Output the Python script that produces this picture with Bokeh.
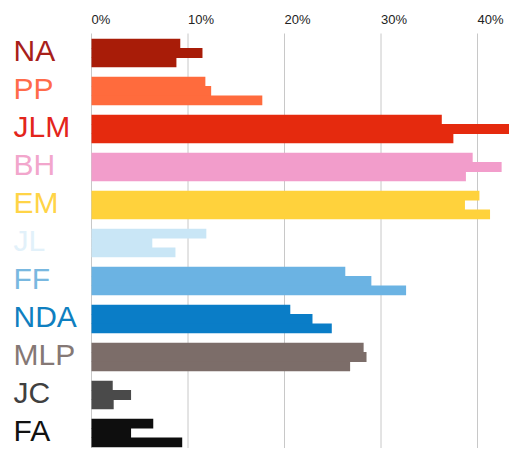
from bokeh.plotting import figure
from bokeh.models import Range1d, ColumnDataSource
from bokeh.core.properties import value
from bokeh.embed import file_html
from bokeh.resources import INLINE

# ---- data ----
candidates = ["NA", "PP", "JLM", "BH", "EM", "JL", "FF", "NDA", "MLP", "JC", "FA"]
poll_a = [9.2, 11.8, 36.3, 39.5, 40.2, 11.9, 26.3, 20.6, 28.2, 2.2, 6.4]
poll_b = [11.5, 12.4, 44.6, 42.5, 38.7, 6.3, 29.0, 22.9, 28.5, 4.1, 4.1]
poll_c = [8.8, 17.7, 37.5, 38.8, 41.3, 8.7, 32.6, 24.9, 26.8, 2.3, 9.4]
bar_colors = ["#A81C08", "#FF6B3D", "#E52A0E", "#F29DCB", "#FFD23C", "#C9E6F6",
              "#6BB3E3", "#0A7DC7", "#7C6D69", "#4A4A4A", "#0E0E0E"]
label_colors = ["#A8201A", "#FF6B4A", "#E3251B", "#F2A6CC", "#FFD447", "#E2F1FA",
                "#79B8E0", "#0F7FC0", "#857875", "#404040", "#111111"]
ticks = [0, 10, 20, 30, 40]
tick_labels = ["0%", "10%", "20%", "30%", "40%"]

# ---- figure ----
W, H = 509, 448
PX_X = 9.65          # pixels per percent
X0 = 91              # pixel of 0 %
PX_Y = 38.0          # pixels per row
Y0 = 52.5            # pixel of first row centre
BAR_PX = 28.2        # full row bar thickness in pixels
x_start = -X0 / PX_X
x_end = (W - X0) / PX_X
y_end = Y0 / PX_Y
y_start = y_end - H / PX_Y

p = figure(width=W, height=H, output_backend="svg", toolbar_location=None,
           x_range=Range1d(x_start, x_end), y_range=Range1d(y_start, y_end),
           min_border=0)
p.axis.visible = False
p.grid.visible = False
p.outline_line_color = None
p.background_fill_color = "white"

n = len(candidates)
rows = [-i for i in range(n)]

# grid lines
g_top = y_end - 33 / PX_Y
p.segment(x0=ticks, x1=ticks, y0=[g_top] * len(ticks), y1=[y_start - 1] * len(ticks),
          line_color="#c8c8c8", line_width=1, level="underlay")

# bars: three sub-bars per candidate
sub_h = BAR_PX / PX_Y / 3
for vals, off in ((poll_a, sub_h), (poll_b, 0.0), (poll_c, -sub_h)):
    src = ColumnDataSource(dict(y=[r + off for r in rows], right=vals, color=bar_colors))
    p.hbar(y="y", left=0, right="right", height=sub_h + 0.01, color="color",
           line_color=None, source=src)

# category labels
lab_src = ColumnDataSource(dict(x=[(13 - X0) / PX_X] * n,
                                y=[r + 3 / PX_Y for r in rows],
                                text=candidates, color=label_colors))
p.text(x="x", y="y", text="text", text_color="color", source=lab_src,
       text_font=value("Liberation Sans"), text_font_size="30px",
       text_baseline="middle", text_align="left")

# tick labels at top
tick_src = ColumnDataSource(dict(x=ticks, y=[y_end - 19 / PX_Y] * len(ticks), text=tick_labels))
p.text(x="x", y="y", text="text", source=tick_src, text_color="#222222",
       text_font=value("Liberation Sans"), text_font_size="13px",
       text_baseline="middle", text_align="left")

open("out.html", "w").write(file_html(p, INLINE))
